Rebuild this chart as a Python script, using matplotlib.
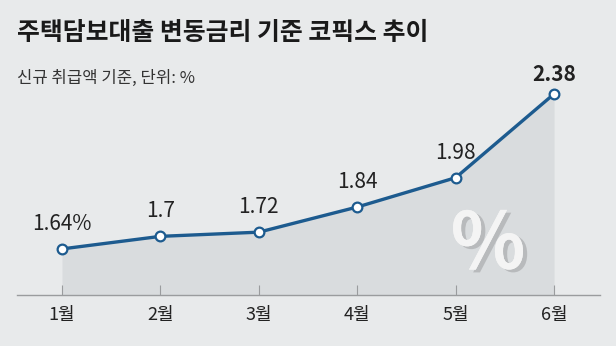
import matplotlib
matplotlib.use("Agg")
import matplotlib.pyplot as plt
import matplotlib.patheffects as pe

months = ["1월", "2월", "3월", "4월", "5월", "6월"]
cofix = [1.64, 1.70, 1.72, 1.84, 1.98, 2.38]
value_labels = ["1.64%", "1.7", "1.72", "1.84", "1.98", "2.38"]

plt.rcParams['font.family'] = ['Noto Sans CJK KR', 'DejaVu Sans']

BG = "#e8eaeb"
FILL = "#d9dcde"
BLUE = "#1d5b8f"

W, H = 616, 346
fig = plt.figure(figsize=(W / 100, H / 100), dpi=100, facecolor=BG)
ax = fig.add_axes([17 / W, 1 - 295 / H, (600 - 17) / W, (295 - 60) / H])
ax.set_facecolor(BG)

x = list(range(len(months)))
ax.set_xlim(-0.457, 5.467)
ax.set_ylim(1.42, 2.542)

ax.fill_between(x, cofix, 1.42, color=FILL, lw=0, zorder=1)
ax.plot(x, cofix, color=BLUE, lw=2.4, zorder=3, solid_capstyle="round")
ax.plot(x, cofix, ls="none", marker="o", ms=7, mfc="white", mec=BLUE, mew=1.6, zorder=4)

for xi, v, lab in zip(x, cofix, value_labels):
    last = xi == len(x) - 1
    ax.annotate(lab, (xi, v), xytext=(0, 14 if last else 18), textcoords="offset points",
                ha="center", va="center", fontsize=15,
                fontweight="bold" if last else "normal", color="#222222")

for s in ["top", "right", "left"]:
    ax.spines[s].set_visible(False)
ax.spines["bottom"].set_color("#9a9c9e")
ax.spines["bottom"].set_linewidth(1.0)
ax.set_yticks([])
ax.set_xticks(x)
ax.set_xticklabels(months, fontsize=13, color="#222222")
ax.tick_params(axis="x", direction="in", length=7, width=0.8, color="#9a9c9e", pad=8)

# big decorative percent sign
ax.text(4.33, 1.655, "%", fontsize=56, fontweight="bold", color="#f4f4f4", ha="center", va="center",
        style="italic", zorder=2,
        path_effects=[pe.withSimplePatchShadow(offset=(3, -2), shadow_rgbFace="#b5b7b9", alpha=0.9),
                      pe.Normal()])

fig.text(17 / W, 1 - 33 / H, "주택담보대출 변동금리 기준 코픽스 추이", fontsize=17.9, fontweight="bold",
         color="#1a1a1a", ha="left", va="center")
fig.text(17 / W, 1 - 78 / H, "신규 취급액 기준, 단위: %", fontsize=12, color="#333333",
         ha="left", va="center")

fig.savefig("out.png", dpi=100, facecolor=BG)
